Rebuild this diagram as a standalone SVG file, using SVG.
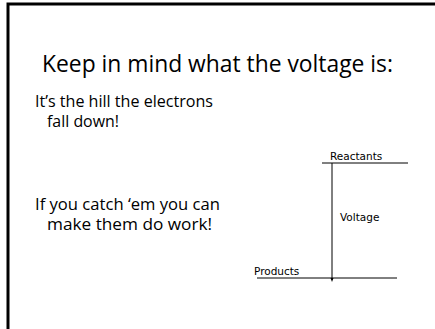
<svg xmlns="http://www.w3.org/2000/svg" width="435" height="329" viewBox="0 0 435 329">
<style>
.slide{font-family:"Open Sans","Liberation Sans",sans-serif;fill:#000}
.body{font-size:16px}
.small{font-family:"DejaVu Sans","Liberation Sans",sans-serif;font-size:10.5px;fill:#000}
.ln{stroke:#000;stroke-width:1;fill:none}
</style>
<defs>
<marker id="ah" markerWidth="4" markerHeight="4" refX="2" refY="2" orient="auto" markerUnits="userSpaceOnUse">
<path d="M0,0.5 L4,2 L0,3.5 Z" fill="#000"/>
</marker>
</defs>
<rect x="0" y="0" width="435" height="329" fill="#fff"/>
<path d="M8,329 V4 H440" fill="none" stroke="#000" stroke-width="3"/>
<g id="title"><text class="slide" x="42" y="72" font-size="23" textLength="351" lengthAdjust="spacingAndGlyphs">Keep in mind what the voltage is:</text></g>
<g id="para1">
<text class="slide body" x="35" y="107" textLength="178" lengthAdjust="spacingAndGlyphs">It’s the hill the electrons</text>
<text class="slide body" x="47" y="127" textLength="72" lengthAdjust="spacingAndGlyphs">fall down!</text>
</g>
<g id="para2">
<text class="slide body" x="35" y="210" textLength="185" lengthAdjust="spacingAndGlyphs">If you catch ‘em you can</text>
<text class="slide body" x="47" y="230" textLength="165" lengthAdjust="spacingAndGlyphs">make them do work!</text>
</g>
<g id="reactants">
<line class="ln" x1="322" y1="163" x2="408" y2="163"/>
<text class="small" x="330" y="160">Reactants</text>
</g>
<g id="products">
<line class="ln" x1="257" y1="278" x2="397" y2="278"/>
<text class="small" x="254" y="275">Products</text>
</g>
<g id="connectors">
<line class="ln" x1="332" y1="163" x2="332" y2="280" marker-end="url(#ah)"/>
<text class="small" x="340" y="221">Voltage</text>
</g>
</svg>
